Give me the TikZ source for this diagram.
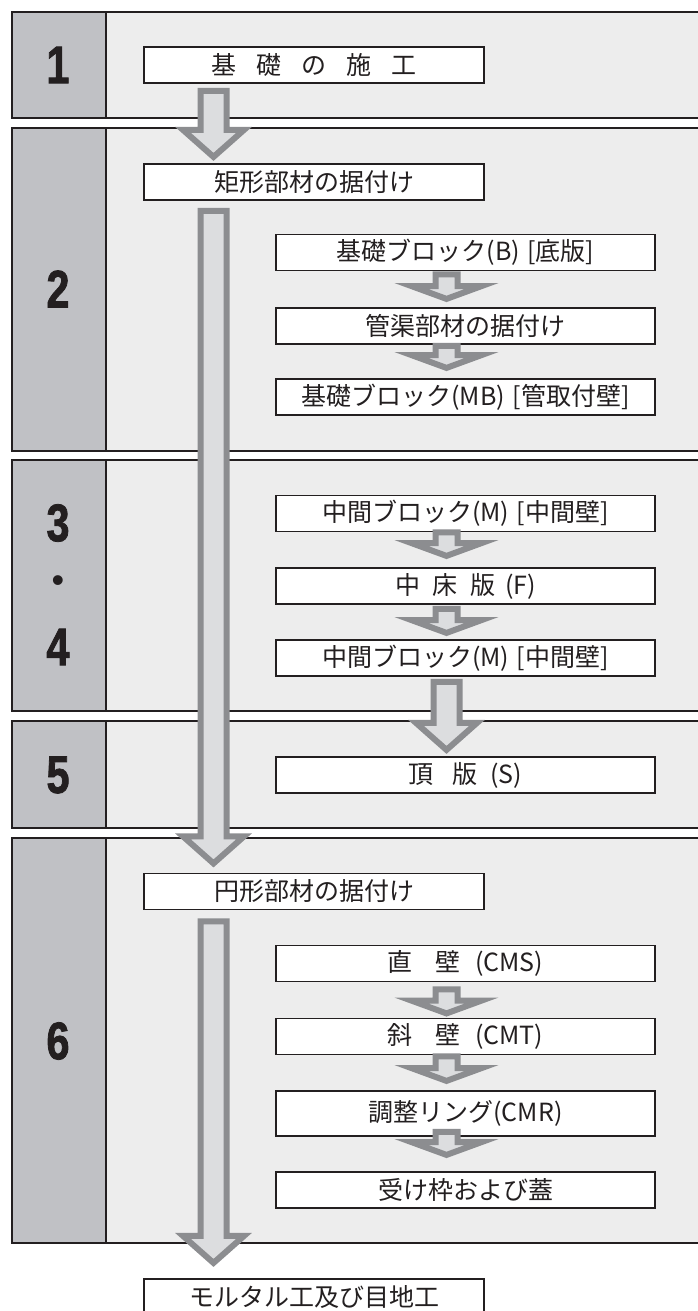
\documentclass[tikz,border=0pt]{standalone}
\usepackage{fontspec}
\usetikzlibrary{calc}
\newfontfamily\jpfont{Noto Sans CJK JP}
\newfontfamily\stepfont[FakeStretch=0.78,FakeBold=1.5]{Liberation Sans}
\newfontfamily\dotfont{Liberation Sans}

\definecolor{inkline}{HTML}{231F20}
\definecolor{bandfill}{HTML}{EDEDED}
\definecolor{numfill}{HTML}{C0C1C5}
\definecolor{flowfill}{HTML}{DCDDDF}
\definecolor{flowedge}{HTML}{8C8D90}

\tikzset{
  band/.style={draw=inkline, line width=2pt, fill=bandfill},
  bandnum/.style={draw=inkline, line width=2pt, fill=numfill},
  phasenum/.style={inner sep=0pt, text=inkline, font=\stepfont\bfseries\fontsize{53pt}{53pt}\selectfont},
  phasedot/.style={inner sep=0pt, text=inkline, font=\dotfont\fontsize{36pt}{36pt}\selectfont},
  taskbox/.style={draw=inkline, line width=1.8pt, fill=white, inner sep=0pt,
    minimum height=36pt, text=inkline, font=\jpfont\fontsize{25pt}{29pt}\selectfont},
  mainbox/.style={taskbox, minimum width=340pt},
  subbox/.style={taskbox, minimum width=379pt},
  flowbody/.style={draw=flowedge, fill=flowfill, line width=6pt, line join=miter}
}

% block arrows: x, from, to, top gap, tip gap
\newcommand{\bigflow}[5]{%
  \path[flowbody] let \p1=(#2.south), \p2=(#3.north) in
    ({#1pt-13pt}, {\y1-(#4pt)-3pt}) -- ({#1pt+13pt}, {\y1-(#4pt)-3pt})
    -- ({#1pt+13pt}, {\y2+(#5pt)+31.2pt}) -- ({#1pt+30.5pt}, {\y2+(#5pt)+31.2pt})
    -- ({#1pt}, {\y2+(#5pt)+4.2pt})
    -- ({#1pt-30.5pt}, {\y2+(#5pt)+31.2pt}) -- ({#1pt-13pt}, {\y2+(#5pt)+31.2pt}) -- cycle;}
\newcommand{\smallflow}[5]{%
  \path[flowbody] let \p1=(#2.south), \p2=(#3.north) in
    ({#1pt-11pt}, {\y1-(#4pt)-3pt}) -- ({#1pt+11pt}, {\y1-(#4pt)-3pt})
    -- ({#1pt+11pt}, {\y2+(#5pt)+16pt}) -- ({#1pt+35pt}, {\y2+(#5pt)+16pt})
    -- ({#1pt}, {\y2+(#5pt)+3.2pt})
    -- ({#1pt-35pt}, {\y2+(#5pt)+16pt}) -- ({#1pt-11pt}, {\y2+(#5pt)+16pt}) -- cycle;}

\begin{document}
\begin{tikzpicture}[x=1pt, y=-1pt]
\useasboundingbox (0,0) rectangle (697,1311);

% phase bands
\draw[band] (12,12) rectangle (705,118);
\draw[bandnum] (12,12) rectangle (106,118);
\draw[band] (12,128) rectangle (705,451);
\draw[bandnum] (12,128) rectangle (106,451);
\draw[band] (12,460) rectangle (705,711);
\draw[bandnum] (12,460) rectangle (106,711);
\draw[band] (12,721) rectangle (705,828);
\draw[bandnum] (12,721) rectangle (106,828);
\draw[band] (12,838) rectangle (705,1243);
\draw[bandnum] (12,838) rectangle (106,1243);

% phase numbers
\node[phasenum] (n1) at (58,65) {1};
\node[phasenum] (n2) at (58,289) {2};
\node[phasenum] (n3) at (58,523) {3};
\node[phasedot] (n34) at (58,584) {•};
\node[phasenum] (n4) at (58,647) {4};
\node[phasenum] (n5) at (58,775) {5};
\node[phasenum] (n6) at (58,1041) {6};

% work steps
\node[mainbox] (found) at (314,65) {基\hspace{0.8em}礎\hspace{0.8em}の\hspace{0.8em}施\hspace{0.8em}工};
\node[mainbox] (rect) at (314,182) {矩形部材の据付け};
\node[subbox] (blockB) at (465.5,252.5) {基礎ブロック(B)\hspace{0.3em}[底版]};
\node[subbox] (pipe) at (465.5,326) {管渠部材の据付け};
\node[subbox] (blockMB) at (465.5,397) {基礎ブロック(MB)\hspace{0.3em}[管取付壁]};
\node[subbox] (midA) at (465.5,513.5) {中間ブロック(M)\hspace{0.3em}[中間壁]};
\node[subbox] (floor) at (465.5,586) {中\hspace{0.5em}床\hspace{0.5em}版\hspace{0.4em}(F)};
\node[subbox] (midB) at (465.5,658) {中間ブロック(M)\hspace{0.3em}[中間壁]};
\node[subbox] (slab) at (465.5,775) {頂\hspace{0.75em}版\hspace{0.5em}(S)};
\node[mainbox] (circ) at (314,891.5) {円形部材の据付け};
\node[subbox] (wall) at (465.5,963.5) {直\hspace{0.9em}壁\hspace{0.6em}(CMS)};
\node[subbox] (slope) at (465.5,1036.5) {斜\hspace{0.9em}壁\hspace{0.6em}(CMT)};
\node[subbox, minimum height=45pt] (ring) at (465.5,1113.5) {\raisebox{4pt}{調整リング(CMR)}};
\node[subbox] (lid) at (465.5,1190) {受け枠および蓋};
\node[mainbox] (mortar) at (314,1297) {モルタル工及び目地工};

% flow arrows
\bigflow{213.5}{found}{rect}{4}{2}
\bigflow{213.5}{rect}{circ}{7}{5}
\bigflow{446.5}{midB}{slab}{2}{2}
\bigflow{213.5}{circ}{mortar}{8}{11}
\smallflow{446.5}{blockB}{pipe}{0}{5}
\smallflow{446.5}{pipe}{blockMB}{-2}{7}
\smallflow{446.5}{midA}{floor}{-3}{8}
\smallflow{446.5}{floor}{midB}{1}{3}
\smallflow{446.5}{wall}{slope}{4}{1}
\smallflow{446.5}{slope}{ring}{-2}{6}
\smallflow{446.5}{ring}{lid}{-8}{13}
\end{tikzpicture}
\end{document}
